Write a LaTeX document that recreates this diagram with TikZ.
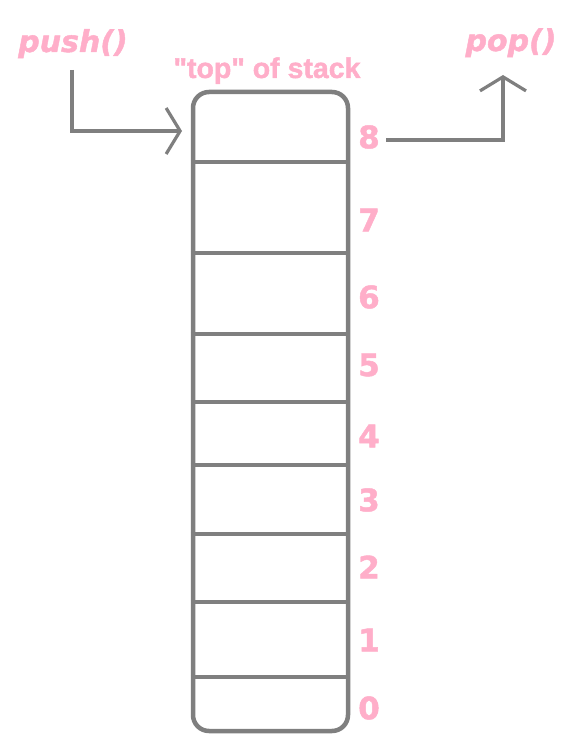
\documentclass[tikz,border=0pt]{standalone}
\usepackage{fontspec}
\newfontfamily\wide{DejaVu Sans}[BoldFeatures={FakeBold=1.5}, BoldItalicFeatures={FakeBold=1.5}]
\newfontfamily\labelfont{Liberation Sans}[Ligatures=TeXOff, BoldFeatures={FakeBold=1.5}]
\usetikzlibrary{arrows.meta}
\definecolor{stackgray}{RGB}{127,127,127}
\definecolor{rose}{RGB}{255,174,201}

\begin{document}
\begin{tikzpicture}[x=1pt, y=-1pt,
    opname/.style={text=rose, inner sep=0pt, anchor=base, font=\wide\bfseries\itshape\fontsize{30}{30}\selectfont},
    num/.style={text=rose, inner sep=0pt, font=\wide\bfseries\fontsize{31}{31}\selectfont},
    toplabel/.style={text=rose, inner sep=0pt, anchor=base, font=\labelfont\bfseries\fontsize{28.5}{28.5}\selectfont},
    cell/.style={draw=stackgray, line width=4.5pt},
    arrow/.style={draw=stackgray, line width=3.2pt, -{Straight Barb[length=14pt, width=46pt]}}]
    \useasboundingbox (0,0) rectangle (574,749);

    % Nodes
    \node[cell, rounded corners=16pt, minimum width=155pt, minimum height=639pt, inner sep=0pt] (stack) at (270.5,411.5) {};
    \node[toplabel] (top) at (267,78) {"top" of stack};
    \node[opname] (push) at (73,52) {push()};
    \node[opname] (pop) at (511,51) {pop()};
    \foreach \i/\y in {8/137, 7/220, 6/297, 5/365, 4/436, 3/500, 2/567, 1/640, 0/708}
        \node[num] (n\i) at (369,\y) {\i};

    % Lines
    \foreach \y in {162, 253, 334, 402, 465, 534, 602, 677}
        \draw[cell] (stack.west |- 0,\y) -- (stack.east |- 0,\y);

    % Arrows
    \coordinate (pushstart) at (72,70);
    \coordinate (pushend) at (182,131);
    \coordinate (popstart) at (386,140);
    \coordinate (popend) at (503,75);
    \draw[arrow] (pushstart) |- (pushend);
    \draw[arrow] (popstart) -| (popend);
\end{tikzpicture}
\end{document}
